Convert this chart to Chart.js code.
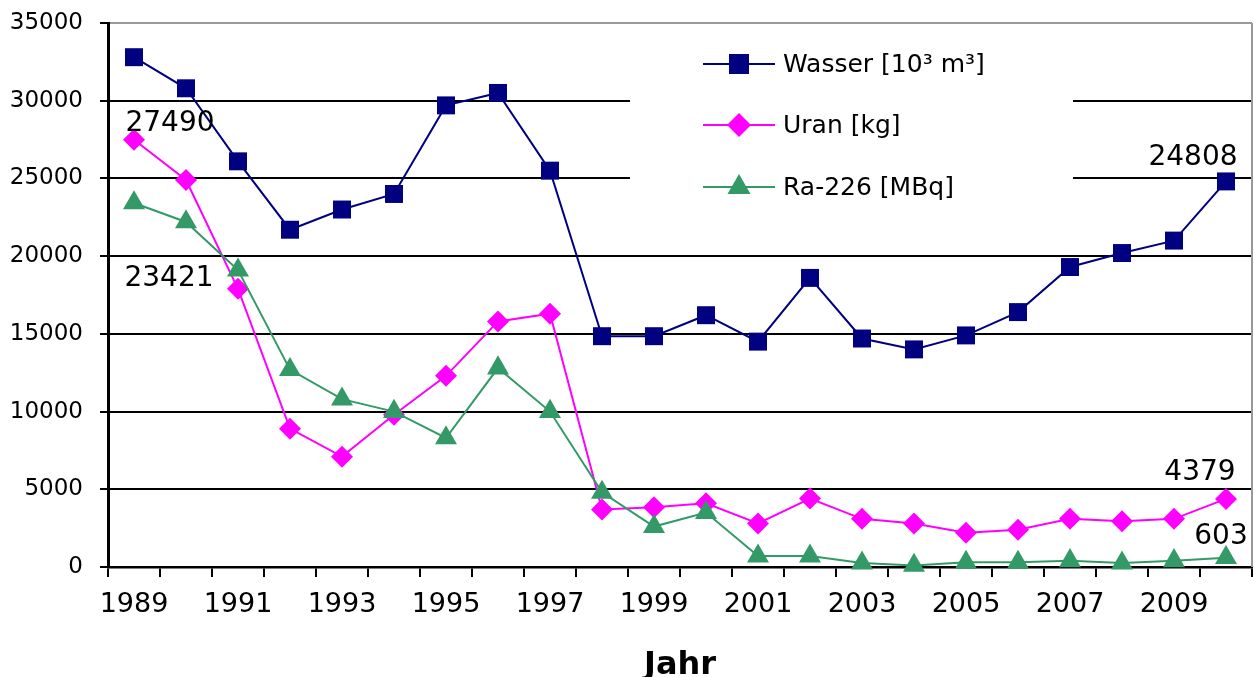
<!DOCTYPE html>
<html>
<head>
<meta charset="utf-8">
<script src="https://cdn.jsdelivr.net/npm/chart.js@4/dist/chart.umd.min.js"></script>
<style>
    html, body { margin: 0; padding: 0; background: #fff; }
    #wrap { width: 1254px; height: 677px; }
</style>
</head>
<body>
<div id="wrap"><canvas id="chart" width="1254" height="677"></canvas></div>
<script>
const years = ['1989', '1990', '1991', '1992', '1993', '1994', '1995', '1996', '1997', '1998', '1999',
               '2000', '2001', '2002', '2003', '2004', '2005', '2006', '2007', '2008', '2009', '2010'];
const wasser = [32800, 30800, 26100, 21700, 23000, 24000, 29700, 30500, 25500, 14850, 14850,
                16200, 14500, 18600, 14700, 14000, 14900, 16400, 19300, 20200, 21000, 24808];
const uran = [27490, 24900, 17900, 8900, 7100, 9800, 12300, 15800, 16300, 3700, 3850,
              4100, 2800, 4400, 3100, 2800, 2200, 2400, 3100, 2950, 3100, 4379];
const ra226 = [23421, 22200, 19100, 12700, 10800, 10000, 8300, 12800, 10000, 4800, 2600,
               3500, 700, 700, 250, 100, 300, 300, 400, 250, 400, 603];
const seriesNames = ['Wasser [10³ m³]', 'Uran [kg]', 'Ra-226 [MBq]'];
const yTicks = [0, 5000, 10000, 15000, 20000, 25000, 30000, 35000];

const FONT = 'DejaVu Sans';
const colors = ['#000080', '#FF00FF', '#339966'];
const styles = ['rect', 'rectRot', 'triangle'];

// values written next to some points (dataset index, point index, offset)
const valueLabels = [
    { ds: 1, i: 0, dx: 36, dy: -16 },
    { ds: 2, i: 0, dx: 35, dy: 76 },
    { ds: 0, i: 21, dx: -33, dy: -24 },
    { ds: 1, i: 21, dx: -26, dy: -26 },
    { ds: 2, i: 21, dx: -5, dy: -21 }
];

function drawMarker(ctx, style, x, y, color) {
    ctx.fillStyle = color;
    ctx.beginPath();
    if (style === 'rect') {
        ctx.rect(x - 10, y - 10, 20, 20);
    } else if (style === 'rectRot') {
        ctx.moveTo(x - 12, y);
        ctx.lineTo(x, y - 12);
        ctx.lineTo(x + 12, y);
        ctx.lineTo(x, y + 12);
        ctx.closePath();
    } else {
        ctx.moveTo(x, y - 13);
        ctx.lineTo(x + 11.5, y + 7);
        ctx.lineTo(x - 11.5, y + 7);
        ctx.closePath();
    }
    ctx.fill();
}

const legendBox = {
    id: 'legendBox',
    beforeDatasetsDraw(chart) {
        const ctx = chart.ctx;
        ctx.save();
        ctx.fillStyle = '#fff';
        ctx.fillRect(630, 25, 443, 200);
        ctx.restore();
    },
    afterDatasetsDraw(chart) {
        const ctx = chart.ctx;
        const area = chart.chartArea;
        ctx.save();
        const rows = [64, 125, 187];
        seriesNames.forEach((name, k) => {
            const y = rows[k];
            ctx.strokeStyle = colors[k];
            ctx.lineWidth = 2;
            ctx.beginPath();
            ctx.moveTo(703, y);
            ctx.lineTo(775, y);
            ctx.stroke();
            drawMarker(ctx, styles[k], 739, y, colors[k]);
            ctx.fillStyle = '#000';
            ctx.font = '25px "' + FONT + '"';
            ctx.textAlign = 'left';
            ctx.textBaseline = 'middle';
            ctx.fillText(name, 783, y + 1);
        });

        ctx.font = '28px "' + FONT + '"';
        ctx.textAlign = 'center';
        ctx.textBaseline = 'middle';
        ctx.fillStyle = '#000';
        valueLabels.forEach(l => {
            const pt = chart.getDatasetMeta(l.ds).data[l.i];
            const v = chart.data.datasets[l.ds].data[l.i];
            ctx.fillText(String(v), pt.x + l.dx, pt.y + l.dy);
        });

        // plot frame on the right
        ctx.strokeStyle = '#999';
        ctx.lineWidth = 2;
        ctx.beginPath();
        ctx.moveTo(area.right, area.top);
        ctx.lineTo(area.right, area.bottom);
        ctx.stroke();
        ctx.restore();
    }
};

document.addEventListener('DOMContentLoaded', function () {
    const series = [wasser, uran, ra226];
    const datasets = series.map((data, k) => ({
        label: seriesNames[k],
        data: data,
        borderColor: colors[k],
        backgroundColor: colors[k],
        borderWidth: 2,
        pointStyle: styles[k],
        pointRadius: k === 1 ? 11 : 12.7,
        pointBorderWidth: 0,
        pointHoverRadius: k === 1 ? 11 : 12.7,
        tension: 0,
        clip: false,
        order: 2 - k
    }));

    new Chart(document.getElementById('chart'), {
        type: 'line',
        data: { labels: years, datasets: datasets },
        options: {
            responsive: false,
            animation: false,
            events: [],
            layout: { autoPadding: false, padding: { top: 23, right: 2, left: 0, bottom: 0 } },
            plugins: {
                legend: { display: false },
                tooltip: { enabled: false }
            },
            scales: {
                x: {
                    offset: true,
                    afterFit: s => {
                        s.height = 110;
                        s.paddingLeft = 0;
                        s.paddingRight = 0;
                    },
                    grid: {
                        offset: true,
                        drawOnChartArea: false,
                        drawTicks: true,
                        tickLength: 10,
                        color: '#000',
                        lineWidth: 2
                    },
                    border: { color: '#000', width: 2.5 },
                    ticks: {
                        autoSkip: false,
                        maxRotation: 0,
                        padding: 12,
                        color: '#000',
                        font: { family: FONT, size: 27 },
                        callback: function (val, i) {
                            return i % 2 === 0 ? this.getLabelForValue(val) : '';
                        }
                    },
                    title: {
                        display: true,
                        text: 'Jahr',
                        color: '#000',
                        padding: 0,
                        font: { family: FONT, size: 32, weight: 'bold', lineHeight: 0.7 }
                    }
                },
                y: {
                    min: yTicks[0],
                    max: yTicks[yTicks.length - 1],
                    afterFit: s => {
                        s.width = 108;
                        s.paddingTop = 0;
                        s.paddingBottom = 0;
                    },
                    afterBuildTicks: s => { s.ticks = yTicks.map(v => ({ value: v })); },
                    grid: {
                        color: c => (c.tick && c.tick.value === 35000) ? '#999' : '#000',
                        lineWidth: 2,
                        tickLength: 8,
                        tickColor: '#000'
                    },
                    border: { color: '#000', width: 3 },
                    ticks: {
                        padding: 17,
                        color: '#000',
                        font: { family: FONT, size: 23 },
                        callback: v => String(v)
                    }
                }
            }
        },
        plugins: [legendBox]
    });
});
</script>
</body>
</html>
